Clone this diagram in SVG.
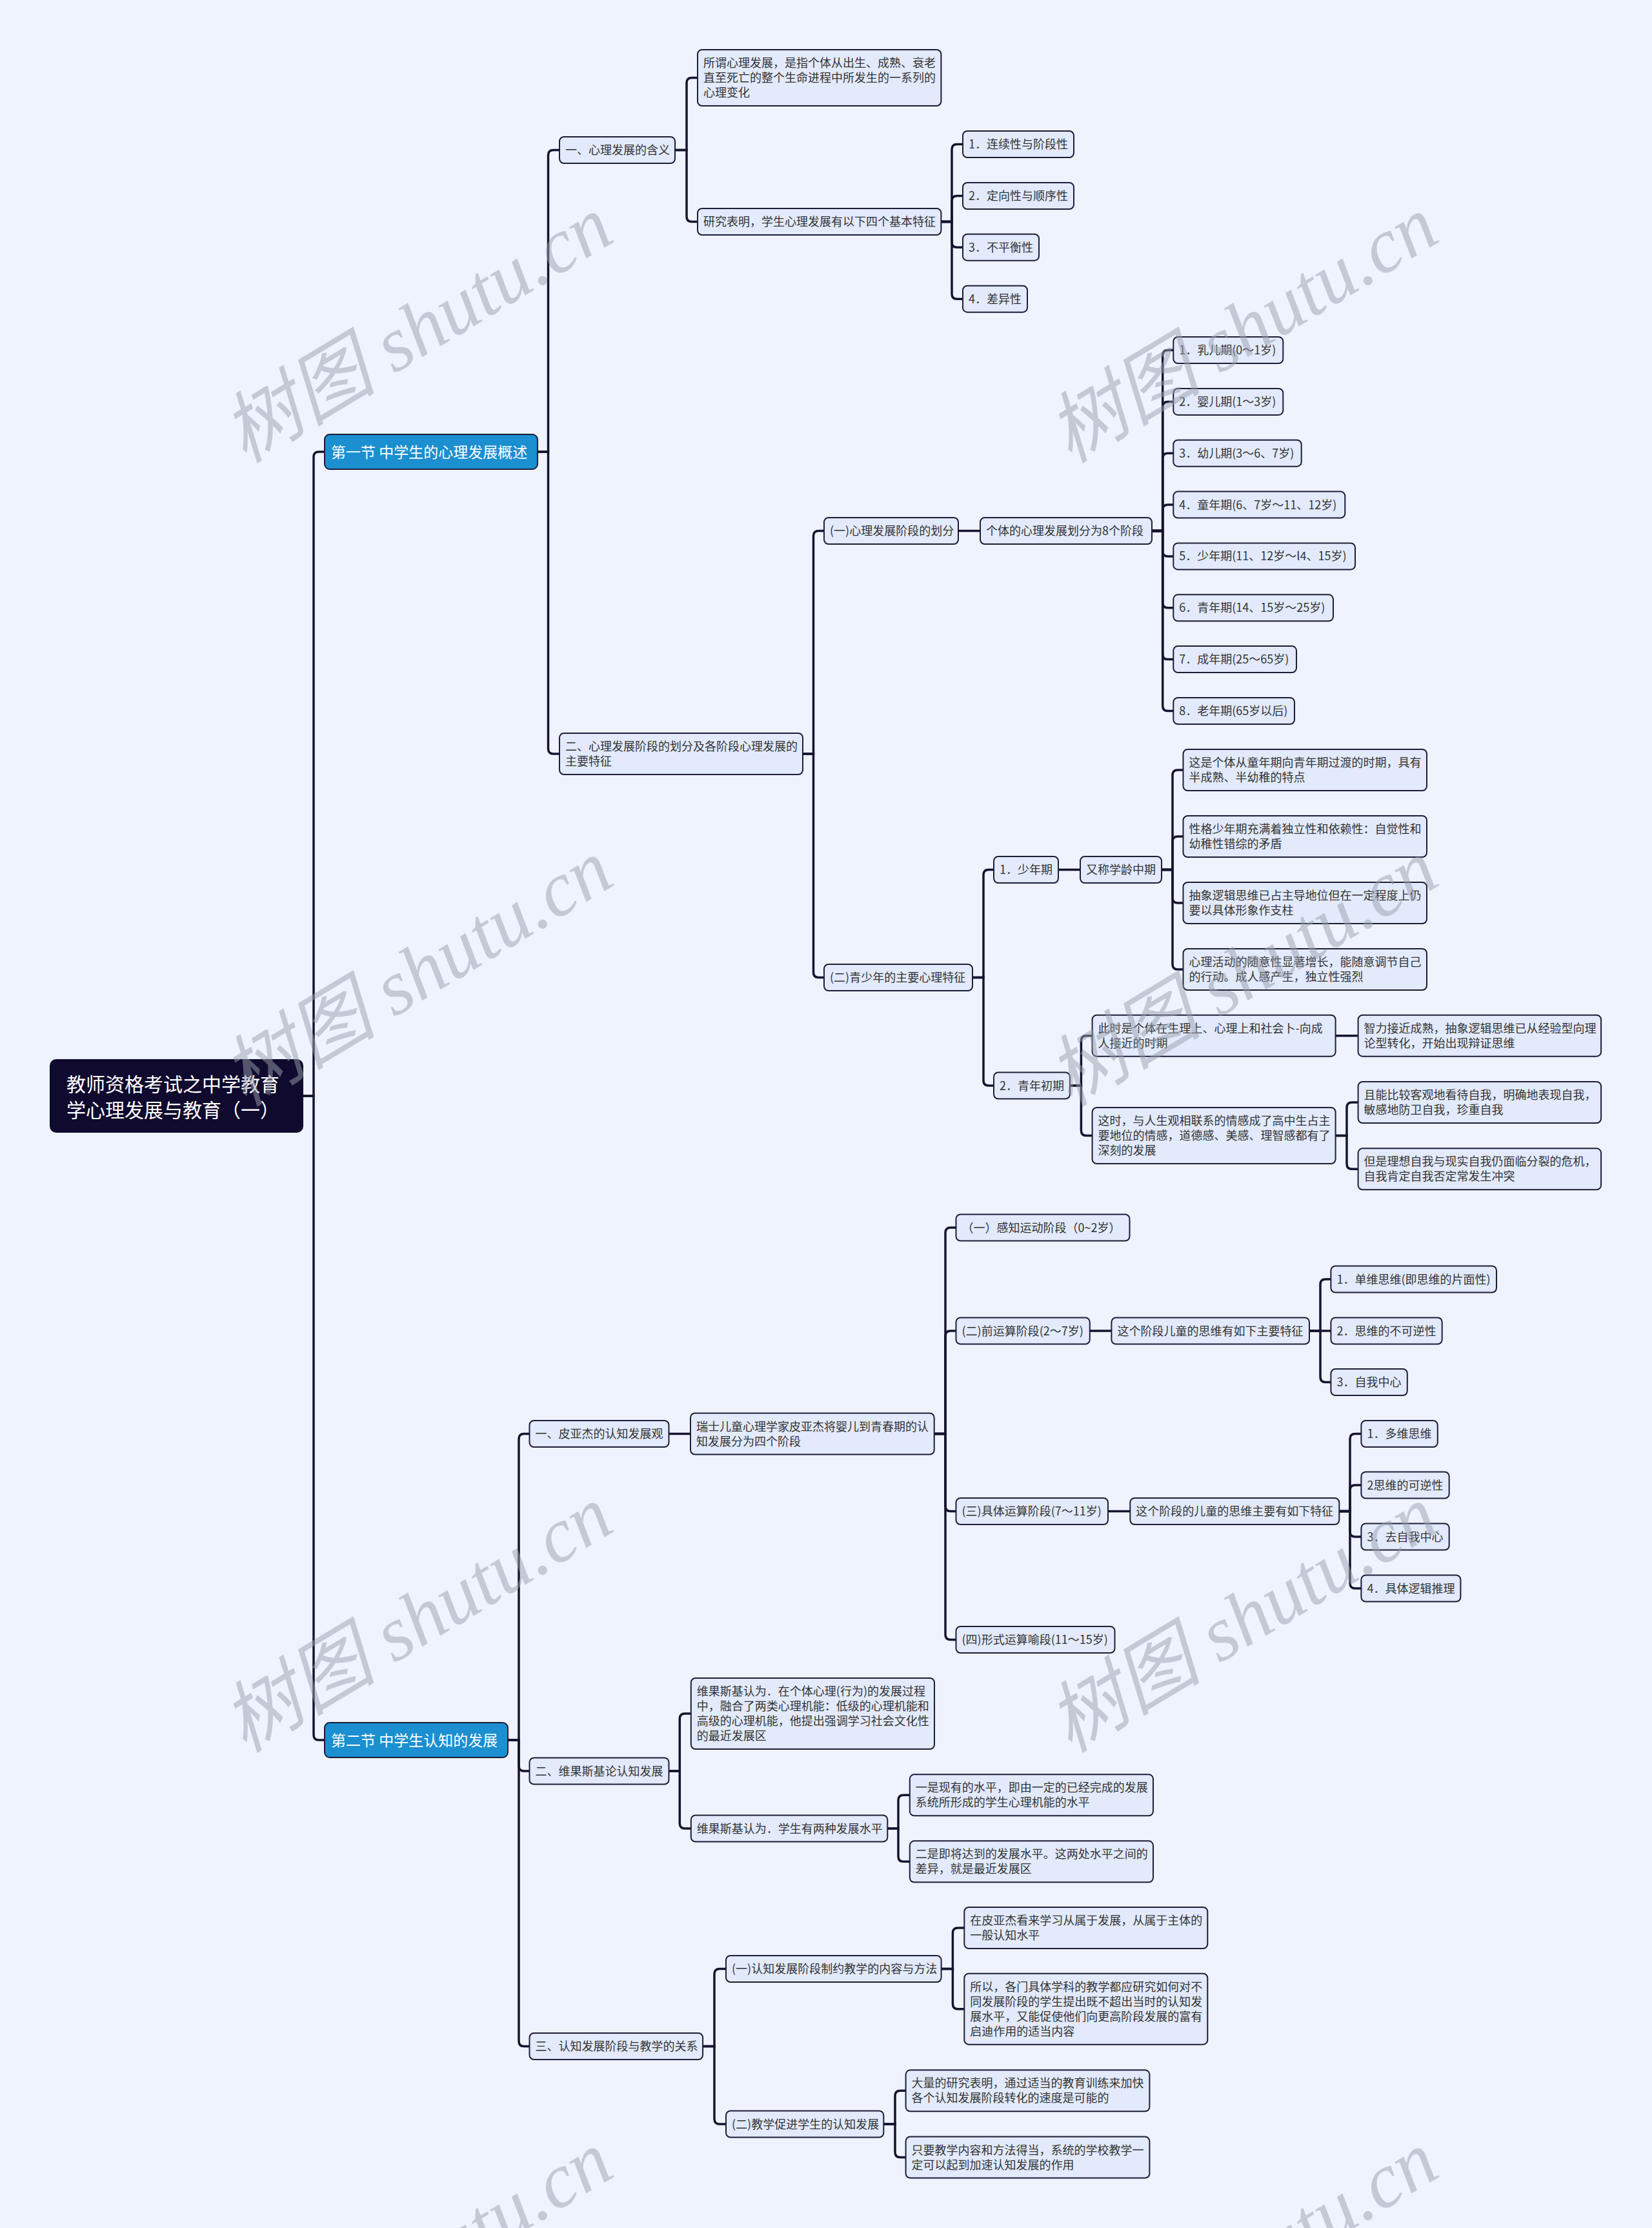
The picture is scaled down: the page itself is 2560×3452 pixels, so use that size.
<svg xmlns="http://www.w3.org/2000/svg" width="2560" height="3452" viewBox="0 0 2560 3452">
<style>
.bg{fill:#eef3fe}
.c path{fill:none;stroke:#15142e;stroke-width:3.5;stroke-linecap:butt}
.n rect{fill:#e2eafb;stroke:#1e1d38;stroke-width:2}
.n text{font-family:"Noto Sans CJK SC","Noto Sans",sans-serif;font-size:18px;fill:#333}
.sec rect{fill:#1b8fd0;stroke:#1e1d38;stroke-width:2}
.sec text{font-family:"Noto Sans CJK SC","Noto Sans",sans-serif;font-size:23px;fill:#fff}
.root rect{fill:#0f0a2e;stroke:none}
.root text{font-family:"Noto Sans CJK SC","Noto Sans",sans-serif;font-size:30px;fill:#fff}
.wm text{font-family:"Liberation Serif","Noto Sans CJK SC",serif;font-style:italic;font-size:120px;fill:#9aa0ae;opacity:0.5;text-anchor:middle}
</style>
<rect class="bg" x="0" y="0" width="2560" height="3452"/>
<g id="connectors" class="c">
<path d="M470 1698 H486 V708 Q486 700 494 700 H503"/>
<path d="M470 1698 H486 V2688 Q486 2696 494 2696 H503"/>
<path d="M833 700 H849.5 V240.5 Q849.5 232.5 857.5 232.5 H867"/>
<path d="M833 700 H849.5 V1160 Q849.5 1168 857.5 1168 H867"/>
<path d="M1046 232.5 H1064 V128.5 Q1064 120.5 1072 120.5 H1081"/>
<path d="M1046 232.5 H1064 V335.5 Q1064 343.5 1072 343.5 H1081"/>
<path d="M1458.4 343.5 H1475 V231.5 Q1475 223.5 1483 223.5 H1492"/>
<path d="M1458.4 343.5 H1475 V311.5 Q1475 303.5 1483 303.5 H1492"/>
<path d="M1458.4 343.5 H1475 V375.2 Q1475 383.2 1483 383.2 H1492"/>
<path d="M1458.4 343.5 H1475 V455.2 Q1475 463.2 1483 463.2 H1492"/>
<path d="M1244 1168 H1260.5 V830.5 Q1260.5 822.5 1268.5 822.5 H1277"/>
<path d="M1244 1168 H1260.5 V1506.5 Q1260.5 1514.5 1268.5 1514.5 H1277"/>
<path d="M1485 822.5 H1519"/>
<path d="M1785 822.5 H1801.7 V550.5 Q1801.7 542.5 1809.7 542.5 H1818.3"/>
<path d="M1785 822.5 H1801.7 V630.4 Q1801.7 622.4 1809.7 622.4 H1818.3"/>
<path d="M1785 822.5 H1801.7 V710.2 Q1801.7 702.2 1809.7 702.2 H1818.3"/>
<path d="M1785 822.5 H1801.7 V790.1 Q1801.7 782.1 1809.7 782.1 H1818.3"/>
<path d="M1785 822.5 H1801.7 V853.9 Q1801.7 861.9 1809.7 861.9 H1818.3"/>
<path d="M1785 822.5 H1801.7 V933.8 Q1801.7 941.8 1809.7 941.8 H1818.3"/>
<path d="M1785 822.5 H1801.7 V1013.6 Q1801.7 1021.6 1809.7 1021.6 H1818.3"/>
<path d="M1785 822.5 H1801.7 V1093.5 Q1801.7 1101.5 1809.7 1101.5 H1818.3"/>
<path d="M1507 1514.5 H1524 V1355.5 Q1524 1347.5 1532 1347.5 H1540"/>
<path d="M1507 1514.5 H1524 V1674 Q1524 1682 1532 1682 H1540"/>
<path d="M1640 1347.5 H1674"/>
<path d="M1800 1347.5 H1817 V1201 Q1817 1193 1825 1193 H1833.5"/>
<path d="M1800 1347.5 H1817 V1304 Q1817 1296 1825 1296 H1833.5"/>
<path d="M1800 1347.5 H1817 V1391 Q1817 1399 1825 1399 H1833.5"/>
<path d="M1800 1347.5 H1817 V1494 Q1817 1502 1825 1502 H1833.5"/>
<path d="M1658 1682 H1675.4 V1612.7 Q1675.4 1604.7 1683.4 1604.7 H1692.6"/>
<path d="M1658 1682 H1675.4 V1751.5 Q1675.4 1759.5 1683.4 1759.5 H1692.6"/>
<path d="M2069.6 1604.7 H2104.6"/>
<path d="M2069.6 1759.5 H2087 V1716 Q2087 1708 2095 1708 H2104.6"/>
<path d="M2069.6 1759.5 H2087 V1803.3 Q2087 1811.3 2095 1811.3 H2104.6"/>
<path d="M787 2696 H804 V2229.5 Q804 2221.5 812 2221.5 H820.5"/>
<path d="M787 2696 H804 V2736 Q804 2744 812 2744 H820.5"/>
<path d="M787 2696 H804 V3162.5 Q804 3170.5 812 3170.5 H820.5"/>
<path d="M1036.5 2221.5 H1070"/>
<path d="M1447.7 2221.5 H1465 V1910 Q1465 1902 1473 1902 H1481.5"/>
<path d="M1447.7 2221.5 H1465 V2070 Q1465 2062 1473 2062 H1481.5"/>
<path d="M1447.7 2221.5 H1465 V2333.5 Q1465 2341.5 1473 2341.5 H1481.5"/>
<path d="M1447.7 2221.5 H1465 V2532.5 Q1465 2540.5 1473 2540.5 H1481.5"/>
<path d="M1688.8 2062 H1722.4"/>
<path d="M2029 2062 H2046 V1990 Q2046 1982 2054 1982 H2062.4"/>
<path d="M2029 2062 H2062.4"/>
<path d="M2029 2062 H2046 V2133.5 Q2046 2141.5 2054 2141.5 H2062.4"/>
<path d="M1717 2341.5 H1751.3"/>
<path d="M2075.3 2341.5 H2092 V2229.5 Q2092 2221.5 2100 2221.5 H2109.4"/>
<path d="M2075.3 2341.5 H2092 V2309 Q2092 2301 2100 2301 H2109.4"/>
<path d="M2075.3 2341.5 H2092 V2373 Q2092 2381 2100 2381 H2109.4"/>
<path d="M2075.3 2341.5 H2092 V2453 Q2092 2461 2100 2461 H2109.4"/>
<path d="M1036.5 2744 H1053.3 V2663 Q1053.3 2655 1061.3 2655 H1070.8"/>
<path d="M1036.5 2744 H1053.3 V2825 Q1053.3 2833 1061.3 2833 H1070.8"/>
<path d="M1375.3 2833 H1392 V2789.3 Q1392 2781.3 1400 2781.3 H1409.8"/>
<path d="M1375.3 2833 H1392 V2876.3 Q1392 2884.3 1400 2884.3 H1409.8"/>
<path d="M1089.1 3170.5 H1107 V3058.5 Q1107 3050.5 1115 3050.5 H1125"/>
<path d="M1089.1 3170.5 H1107 V3283 Q1107 3291 1115 3291 H1125"/>
<path d="M1458.6 3050.5 H1476.4 V2995 Q1476.4 2987 1484.4 2987 H1494.3"/>
<path d="M1458.6 3050.5 H1476.4 V3104.7 Q1476.4 3112.7 1484.4 3112.7 H1494.3"/>
<path d="M1369.3 3291 H1387 V3247.3 Q1387 3239.3 1395 3239.3 H1403.6"/>
<path d="M1369.3 3291 H1387 V3334.5 Q1387 3342.5 1395 3342.5 H1403.6"/>
</g>
<g id="root" class="root"><rect x="77" y="1641" width="393" height="114" rx="10"/><text x="103" y="1691">教师资格考试之中学教育</text><text x="103" y="1731">学心理发展与教育（一）</text></g>
<g id="s1" class="sec"><rect x="503" y="673" width="330" height="54" rx="8"/><text x="513" y="708.5">第一节 中学生的心理发展概述</text></g>
<g id="s2" class="sec"><rect x="503" y="2669" width="284" height="54" rx="8"/><text x="513" y="2704.5">第二节 中学生认知的发展</text></g>
<g id="a1" class="n"><rect x="867" y="212" width="179" height="41" rx="7"/><text x="876" y="239">一、心理发展的含义</text></g>
<g id="b1" class="n"><rect x="1081" y="77" width="377.4" height="87" rx="7"/><text x="1090" y="104">所谓心理发展，是指个体从出生、成熟、衰老</text><text x="1090" y="127">直至死亡的整个生命进程中所发生的一系列的</text><text x="1090" y="150">心理变化</text></g>
<g id="b2" class="n"><rect x="1081" y="323" width="377.4" height="41" rx="7"/><text x="1090" y="350">研究表明，学生心理发展有以下四个基本特征</text></g>
<g id="c1" class="n"><rect x="1492" y="203" width="172" height="41" rx="7"/><text x="1501" y="230">1．连续性与阶段性</text></g>
<g id="c2" class="n"><rect x="1492" y="283" width="172" height="41" rx="7"/><text x="1501" y="310">2．定向性与顺序性</text></g>
<g id="c3" class="n"><rect x="1492" y="362.7" width="118" height="41" rx="7"/><text x="1501" y="389.7">3．不平衡性</text></g>
<g id="c4" class="n"><rect x="1492" y="442.7" width="100" height="41" rx="7"/><text x="1501" y="469.7">4．差异性</text></g>
<g id="a2" class="n"><rect x="867" y="1136" width="377" height="64" rx="7"/><text x="876" y="1163">二、心理发展阶段的划分及各阶段心理发展的</text><text x="876" y="1186">主要特征</text></g>
<g id="b3" class="n"><rect x="1277" y="802" width="208" height="41" rx="7"/><text x="1286" y="829">(一)心理发展阶段的划分</text></g>
<g id="b5" class="n"><rect x="1519" y="802" width="266" height="41" rx="7"/><text x="1528" y="829">个体的心理发展划分为8个阶段</text></g>
<g id="st1" class="n"><rect x="1818.3" y="522" width="170" height="41" rx="7"/><text x="1827.3" y="549">1．乳儿期(0～1岁)</text></g>
<g id="st2" class="n"><rect x="1818.3" y="601.9" width="170" height="41" rx="7"/><text x="1827.3" y="628.9">2．婴儿期(1～3岁)</text></g>
<g id="st3" class="n"><rect x="1818.3" y="681.7" width="198.4" height="41" rx="7"/><text x="1827.3" y="708.7">3．幼儿期(3～6、7岁)</text></g>
<g id="st4" class="n"><rect x="1818.3" y="761.6" width="266" height="41" rx="7"/><text x="1827.3" y="788.6">4．童年期(6、7岁～11、12岁)</text></g>
<g id="st5" class="n"><rect x="1818.3" y="841.4" width="281.7" height="41" rx="7"/><text x="1827.3" y="868.4">5．少年期(11、12岁～l4、15岁)</text></g>
<g id="st6" class="n"><rect x="1818.3" y="921.3" width="247.7" height="41" rx="7"/><text x="1827.3" y="948.3">6．青年期(14、15岁～25岁)</text></g>
<g id="st7" class="n"><rect x="1818.3" y="1001.1" width="190.7" height="41" rx="7"/><text x="1827.3" y="1028.1">7．成年期(25～65岁)</text></g>
<g id="st8" class="n"><rect x="1818.3" y="1081" width="187.7" height="41" rx="7"/><text x="1827.3" y="1108">8．老年期(65岁以后)</text></g>
<g id="b4" class="n"><rect x="1277" y="1494" width="230" height="41" rx="7"/><text x="1286" y="1521">(二)青少年的主要心理特征</text></g>
<g id="d1" class="n"><rect x="1540" y="1327" width="100" height="41" rx="7"/><text x="1549" y="1354">1．少年期</text></g>
<g id="d2" class="n"><rect x="1674" y="1327" width="126" height="41" rx="7"/><text x="1683" y="1354">又称学龄中期</text></g>
<g id="e1" class="n"><rect x="1833.5" y="1161" width="377.5" height="64" rx="7"/><text x="1842.5" y="1188">这是个体从童年期向青年期过渡的时期，具有</text><text x="1842.5" y="1211">半成熟、半幼稚的特点</text></g>
<g id="e2" class="n"><rect x="1833.5" y="1264" width="377.5" height="64" rx="7"/><text x="1842.5" y="1291">性格少年期充满着独立性和依赖性：自觉性和</text><text x="1842.5" y="1314">幼稚性错综的矛盾</text></g>
<g id="e3" class="n"><rect x="1833.5" y="1367" width="377.5" height="64" rx="7"/><text x="1842.5" y="1394">抽象逻辑思维已占主导地位但在一定程度上仍</text><text x="1842.5" y="1417">要以具体形象作支柱</text></g>
<g id="e4" class="n"><rect x="1833.5" y="1470" width="377.5" height="64" rx="7"/><text x="1842.5" y="1497">心理活动的随意性显著增长，能随意调节自己</text><text x="1842.5" y="1520">的行动。成人感产生，独立性强烈</text></g>
<g id="d3" class="n"><rect x="1540" y="1661.5" width="118" height="41" rx="7"/><text x="1549" y="1688.5">2．青年初期</text></g>
<g id="f1" class="n"><rect x="1692.6" y="1572.7" width="377" height="64" rx="7"/><text x="1701.6" y="1599.7">此时是个体在生理上、心理上和社会卜-向成</text><text x="1701.6" y="1622.7">人接近的时期</text></g>
<g id="f2" class="n"><rect x="2104.6" y="1572.7" width="376.5" height="64" rx="7"/><text x="2113.6" y="1599.7">智力接近成熟，抽象逻辑思维已从经验型向理</text><text x="2113.6" y="1622.7">论型转化，开始出现辩证思维</text></g>
<g id="f3" class="n"><rect x="1692.6" y="1716" width="377" height="87" rx="7"/><text x="1701.6" y="1743">这时，与人生观相联系的情感成了高中生占主</text><text x="1701.6" y="1766">要地位的情感，道德感、美感、理智感都有了</text><text x="1701.6" y="1789">深刻的发展</text></g>
<g id="f4" class="n"><rect x="2104.6" y="1676" width="376.5" height="64" rx="7"/><text x="2113.6" y="1703">且能比较客观地看待自我，明确地表现自我，</text><text x="2113.6" y="1726">敏感地防卫自我，珍重自我</text></g>
<g id="f5" class="n"><rect x="2104.6" y="1779.3" width="376.5" height="64" rx="7"/><text x="2113.6" y="1806.3">但是理想自我与现实自我仍面临分裂的危机，</text><text x="2113.6" y="1829.3">自我肯定自我否定常发生冲突</text></g>
<g id="g1" class="n"><rect x="820.5" y="2201" width="216" height="41" rx="7"/><text x="829.5" y="2228">一、皮亚杰的认知发展观</text></g>
<g id="h1" class="n"><rect x="1070" y="2189.5" width="377.7" height="64" rx="7"/><text x="1079" y="2216.5">瑞士儿童心理学家皮亚杰将婴儿到青春期的认</text><text x="1079" y="2239.5">知发展分为四个阶段</text></g>
<g id="i1" class="n"><rect x="1481.5" y="1881.5" width="269" height="41" rx="7"/><text x="1490.5" y="1908.5">（一）感知运动阶段（0~2岁）</text></g>
<g id="i2" class="n"><rect x="1481.5" y="2041.5" width="207.3" height="41" rx="7"/><text x="1490.5" y="2068.5">(二)前运算阶段(2～7岁)</text></g>
<g id="j1" class="n"><rect x="1722.4" y="2041.5" width="306.6" height="41" rx="7"/><text x="1731.4" y="2068.5">这个阶段儿童的思维有如下主要特征</text></g>
<g id="k1" class="n"><rect x="2062.4" y="1961.5" width="256.6" height="41" rx="7"/><text x="2071.4" y="1988.5">1．单维思维(即思维的片面性)</text></g>
<g id="k2" class="n"><rect x="2062.4" y="2041.5" width="172.3" height="41" rx="7"/><text x="2071.4" y="2068.5">2．思维的不可逆性</text></g>
<g id="k3" class="n"><rect x="2062.4" y="2121" width="118.4" height="41" rx="7"/><text x="2071.4" y="2148">3．自我中心</text></g>
<g id="i3" class="n"><rect x="1481.5" y="2321" width="235.5" height="41" rx="7"/><text x="1490.5" y="2348">(三)具体运算阶段(7～11岁)</text></g>
<g id="j2" class="n"><rect x="1751.3" y="2321" width="324" height="41" rx="7"/><text x="1760.3" y="2348">这个阶段的儿童的思维主要有如下特征</text></g>
<g id="l1" class="n"><rect x="2109.4" y="2201" width="118.4" height="41" rx="7"/><text x="2118.4" y="2228">1．多维思维</text></g>
<g id="l2" class="n"><rect x="2109.4" y="2280.5" width="136.3" height="41" rx="7"/><text x="2118.4" y="2307.5">2思维的可逆性</text></g>
<g id="l3" class="n"><rect x="2109.4" y="2360.5" width="136.3" height="41" rx="7"/><text x="2118.4" y="2387.5">3．去自我中心</text></g>
<g id="l4" class="n"><rect x="2109.4" y="2440.5" width="154" height="41" rx="7"/><text x="2118.4" y="2467.5">4．具体逻辑推理</text></g>
<g id="i4" class="n"><rect x="1481.5" y="2520" width="246" height="41" rx="7"/><text x="1490.5" y="2547">(四)形式运算喻段(11～15岁)</text></g>
<g id="g2" class="n"><rect x="820.5" y="2723.5" width="216" height="41" rx="7"/><text x="829.5" y="2750.5">二、维果斯基论认知发展</text></g>
<g id="m1" class="n"><rect x="1070.8" y="2600" width="377.2" height="110" rx="7"/><text x="1079.8" y="2627">维果斯基认为．在个体心理(行为)的发展过程</text><text x="1079.8" y="2650">中，融合了两类心理机能：低级的心理机能和</text><text x="1079.8" y="2673">高级的心理机能，他提出强调学习社会文化性</text><text x="1079.8" y="2696">的最近发展区</text></g>
<g id="m2" class="n"><rect x="1070.8" y="2812.5" width="304.5" height="41" rx="7"/><text x="1079.8" y="2839.5">维果斯基认为．学生有两种发展水平</text></g>
<g id="n1" class="n"><rect x="1409.8" y="2749.3" width="377.2" height="64" rx="7"/><text x="1418.8" y="2776.3">一是现有的水平，即由一定的已经完成的发展</text><text x="1418.8" y="2799.3">系统所形成的学生心理机能的水平</text></g>
<g id="n2" class="n"><rect x="1409.8" y="2852.3" width="377.2" height="64" rx="7"/><text x="1418.8" y="2879.3">二是即将达到的发展水平。这两处水平之间的</text><text x="1418.8" y="2902.3">差异，就是最近发展区</text></g>
<g id="g3" class="n"><rect x="820.5" y="3150" width="268.6" height="41" rx="7"/><text x="829.5" y="3177">三、认知发展阶段与教学的关系</text></g>
<g id="o1" class="n"><rect x="1125" y="3030" width="333.6" height="41" rx="7"/><text x="1134" y="3057">(一)认知发展阶段制约教学的内容与方法</text></g>
<g id="p1" class="n"><rect x="1494.3" y="2955" width="377" height="64" rx="7"/><text x="1503.3" y="2982">在皮亚杰看来学习从属于发展，从属于主体的</text><text x="1503.3" y="3005">一般认知水平</text></g>
<g id="p2" class="n"><rect x="1494.3" y="3057.7" width="377" height="110" rx="7"/><text x="1503.3" y="3084.7">所以，各门具体学科的教学都应研究如何对不</text><text x="1503.3" y="3107.7">同发展阶段的学生提出既不超出当时的认知发</text><text x="1503.3" y="3130.7">展水平，又能促使他们向更高阶段发展的富有</text><text x="1503.3" y="3153.7">启迪作用的适当内容</text></g>
<g id="o2" class="n"><rect x="1125" y="3270.5" width="244.3" height="41" rx="7"/><text x="1134" y="3297.5">(二)教学促进学生的认知发展</text></g>
<g id="q1" class="n"><rect x="1403.6" y="3207.3" width="377.8" height="64" rx="7"/><text x="1412.6" y="3234.3">大量的研究表明，通过适当的教育训练来加快</text><text x="1412.6" y="3257.3">各个认知发展阶段转化的速度是可能的</text></g>
<g id="q2" class="n"><rect x="1403.6" y="3310.5" width="377.8" height="64" rx="7"/><text x="1412.6" y="3337.5">只要教学内容和方法得当，系统的学校教学一</text><text x="1412.6" y="3360.5">定可以起到加速认知发展的作用</text></g>
<g id="watermarks" class="wm">
<text transform="translate(647 511) rotate(-31)" x="0" y="40">树图 shutu.cn</text>
<text transform="translate(1926 511) rotate(-31)" x="0" y="40">树图 shutu.cn</text>
<text transform="translate(647 1508) rotate(-31)" x="0" y="40">树图 shutu.cn</text>
<text transform="translate(1926 1508) rotate(-31)" x="0" y="40">树图 shutu.cn</text>
<text transform="translate(647 2509) rotate(-31)" x="0" y="40">树图 shutu.cn</text>
<text transform="translate(1926 2509) rotate(-31)" x="0" y="40">树图 shutu.cn</text>
<text transform="translate(647 3509) rotate(-31)" x="0" y="40">树图 shutu.cn</text>
<text transform="translate(1926 3509) rotate(-31)" x="0" y="40">树图 shutu.cn</text>
</g>
</svg>
